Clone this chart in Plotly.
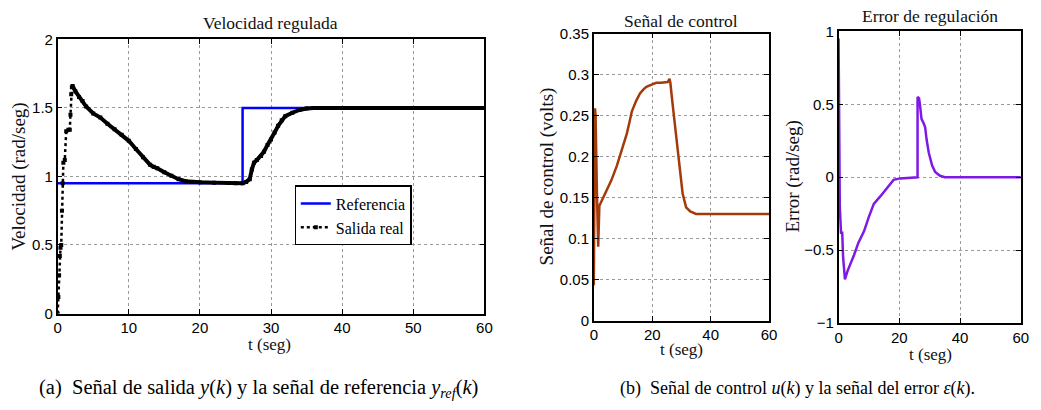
import plotly.graph_objects as go
import numpy as np

# ---------------- data ----------------
# (a) Velocidad regulada
t_ref = [0, 26, 26, 60]
v_ref = [0.95, 0.95, 1.5, 1.5]

t_out = [0, 0.1, 0.2, 0.3, 0.4, 0.5, 0.6, 0.7, 0.8, 1.0, 1.2, 1.5, 1.7, 1.8, 1.9, 2.0, 2.1,
         2.5, 3, 3.5, 4, 5, 6, 7, 8, 9, 10, 11, 12, 13, 13.5, 14, 15, 16, 17, 18, 19, 20, 22,
         24, 25, 26, 26.5, 27, 27.3, 27.6, 28, 28.6, 29, 29.5, 30, 30.5, 31, 31.5, 32, 33, 34,
         35, 36, 38, 40, 45, 50, 55, 60]
v_out = [0, 0.12, 0.28, 0.42, 0.48, 0.5, 0.75, 0.95, 1.1, 1.12, 1.33, 1.34, 1.34, 1.45, 1.6,
         1.65, 1.66, 1.62, 1.58, 1.55, 1.51, 1.46, 1.43, 1.385, 1.345, 1.305, 1.26, 1.2, 1.14,
         1.085, 1.07, 1.06, 1.03, 1.005, 0.98, 0.965, 0.96, 0.958, 0.955, 0.952, 0.95, 0.95,
         0.96, 0.98, 1.05, 1.10, 1.12, 1.15, 1.18, 1.23, 1.27, 1.32, 1.37, 1.41, 1.44, 1.465,
         1.485, 1.495, 1.5, 1.5, 1.5, 1.5, 1.5, 1.5, 1.5]

# (b) Señal de control
t_u = [0, 0.4, 0.6, 1.1, 1.5, 1.9, 2.3, 3.0, 4.5, 6, 7.9, 9.5, 11.3, 12.2, 13, 14.5, 15.8,
       17, 18, 20, 21.4, 23, 25.3, 25.9, 26.2, 27, 28, 28.7, 29.5, 30.4, 31.6, 33, 35, 40,
       45, 50, 55, 60]
u = [0.043, 0.259, 0.25, 0.15, 0.09, 0.14, 0.143, 0.148, 0.158, 0.171, 0.189, 0.207, 0.228,
     0.242, 0.255, 0.268, 0.277, 0.282, 0.285, 0.288, 0.29, 0.29, 0.291, 0.295, 0.29, 0.263,
     0.23, 0.205, 0.18, 0.155, 0.138, 0.133, 0.13, 0.13, 0.13, 0.13, 0.13, 0.13]

# (b) Error de regulación
t_e = [0, 0.2, 0.4, 0.8, 1.2, 1.5, 2.1, 3, 4, 5.1, 6.5, 8.4, 10, 11.6, 13.8, 15, 16.5,
       18.1, 20.3, 22, 24, 26, 26, 26.5, 26.8, 27.3, 28, 28.5, 29.0, 29.7, 30.8, 31.8, 33.4,
       35, 40, 45, 50, 55, 60]
e = [0.95, 0.5, -0.2, -0.38, -0.38, -0.55, -0.70, -0.64, -0.59, -0.533, -0.45, -0.369,
     -0.27, -0.183, -0.13, -0.1, -0.055, -0.018, -0.008, -0.005, -0.003, 0.0, 0.55, 0.54,
     0.496, 0.40, 0.37, 0.343, 0.255, 0.168, 0.08, 0.036, 0.01, 0.0, 0.0, 0.0, 0.0, 0.0, 0.0]

x_ticks_a = [0, 10, 20, 30, 40, 50, 60]
y_ticks_a = [0, 0.5, 1, 1.5, 2]
x_ticks_b = [0, 20, 40, 60]
y_ticks_u = [0, 0.05, 0.1, 0.15, 0.2, 0.25, 0.3, 0.35]
y_ticks_e = [-1, -0.5, 0, 0.5, 1]

# ---------------- figure ----------------
W, H = 1041, 410
fig = go.Figure()

fig.add_trace(go.Scatter(x=t_ref, y=v_ref, mode="lines", name="Referencia",
                         line=dict(color="#0000ff", width=2.5), xaxis="x", yaxis="y"))
fig.add_trace(go.Scatter(x=t_out, y=v_out, mode="lines+markers", name="Salida real",
                         line=dict(color="black", width=2.5, dash="dot"),
                         marker=dict(symbol="square", size=4, color="black"),
                         xaxis="x", yaxis="y"))
t_arr = np.array(t_out)
v_arr = np.array(v_out)
mask = (t_arr >= 2.0)
fig.add_trace(go.Scatter(x=t_arr[mask], y=v_arr[mask], mode="lines", showlegend=False,
                         line=dict(color="black", width=4), xaxis="x", yaxis="y"))

fig.add_trace(go.Scatter(x=t_u, y=u, mode="lines", showlegend=False,
                         line=dict(color="#a33a0b", width=2.5), xaxis="x2", yaxis="y2"))
fig.add_trace(go.Scatter(x=t_e, y=e, mode="lines", showlegend=False,
                         line=dict(color="#7f1ae6", width=2.5), xaxis="x3", yaxis="y3"))

def px(x):
    return x / W

def py(y):
    return 1 - y / H

tickfont = dict(family="Liberation Sans, Arial, sans-serif", size=15, color="black")
common = dict(showline=True, linecolor="black", linewidth=1.5, mirror="allticks",
              ticks="inside", ticklen=5, tickcolor="black", showgrid=True,
              gridcolor="#9a9a9a", griddash="dot", gridwidth=1, zeroline=False,
              tickfont=tickfont)

serif = "Liberation Serif, serif"

fig.update_layout(
    width=W, height=H, margin=dict(l=0, r=0, t=0, b=0),
    paper_bgcolor="white", plot_bgcolor="white",
    xaxis=dict(domain=[px(54.3), px(486)], range=[0, 60], tickvals=x_ticks_a,
               anchor="y", **common),
    yaxis=dict(domain=[py(317.7), py(31.7)], range=[0, 2], tickvals=y_ticks_a,
               ticktext=["0", "0.5", "1", "1.5", "2"], anchor="x", **common),
    xaxis2=dict(domain=[px(596.7), px(774)], range=[0, 60], tickvals=x_ticks_b,
                anchor="y2", **common),
    yaxis2=dict(domain=[py(325), py(25.7)], range=[0, 0.35], tickvals=y_ticks_u,
                ticktext=["0", "0.05", "0.1", "0.15", "0.2", "0.25", "0.3", "0.35"],
                anchor="x2", **common),
    xaxis3=dict(domain=[px(844.3), px(1028.7)], range=[0, 60], tickvals=x_ticks_b,
                anchor="y3", **common),
    yaxis3=dict(domain=[py(327.7), py(23.3)], range=[-1, 1], tickvals=y_ticks_e,
                ticktext=["\u22121", "\u22120.5", "0", "0.5", "1"], anchor="x3", **common),
    legend=dict(x=px(294), y=py(184), xanchor="left", yanchor="top",
                bgcolor="white", bordercolor="black", borderwidth=1.2,
                font=dict(family=serif, size=16, color="black"),
                tracegroupgap=0, itemwidth=30),
    showlegend=True,
)

ann = []

def text(x, y, s, size=14, angle=0, color="#111"):
    ann.append(dict(x=px(x), y=py(y), xref="paper", yref="paper", text=s,
                    showarrow=False, xanchor="center", yanchor="middle",
                    textangle=angle, font=dict(family=serif, size=size, color=color)))

# titles
text(270, 15, "Velocidad regulada", 17.5)
text(685, 13, "Señal de control", 17.5)
text(937, 7, "Error de regulación", 17.5)
# x-axis titles
text(269, 350, "t (seg)", 17)
text(685, 355, "t (seg)", 17)
text(937, 360, "t (seg)", 17)
# y-axis titles
text(15, 175, "Velocidad (rad/seg)", 19, -90)
text(549, 175, "Señal de control (volts)", 19, -90)
text(798, 175, "Error (rad/seg)", 19, -90)
# captions
text(257.5, 396, "(a)  Señal de salida <i>y</i>(<i>k</i>) y la señal de referencia "
                 "<i>y<sub>ref</sub></i>(<i>k</i>)", 20.5, color="black")
text(802.5, 396, "(b)  Señal de control <i>u</i>(<i>k</i>) y la señal del error "
                 "<i>ε</i>(<i>k</i>).", 18, color="black")

fig.update_layout(annotations=ann)
fig.write_html("out.html")
